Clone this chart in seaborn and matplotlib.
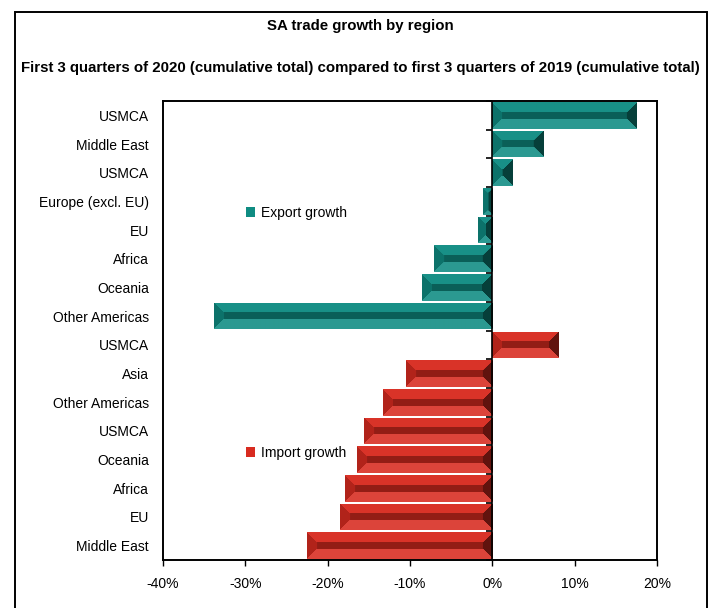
import numpy as np
import pandas as pd
import matplotlib
matplotlib.use('Agg')
import matplotlib.pyplot as plt
import matplotlib.patches as mpatches
from matplotlib.ticker import FuncFormatter
import seaborn as sns

# data (growth in %)
regions = ['USMCA', 'Middle East', 'USMCA', 'Europe (excl. EU)', 'EU', 'Africa',
           'Oceania', 'Other Americas',
           'USMCA', 'Asia', 'Other Americas', 'USMCA', 'Oceania', 'Africa',
           'EU', 'Middle East']
flows = ['Export growth'] * 8 + ['Import growth'] * 8
growth = [17.5, 6.2, 2.5, -1.1, -1.8, -7.1, -8.5, -33.8,
          8.1, -10.5, -13.3, -15.6, -16.4, -17.9, -18.5, -22.5]
x_ticks = [-40, -30, -20, -10, 0, 10, 20]

colors = {'Export growth': '#0f8c82', 'Import growth': '#d82b20'}

sns.set_style('white')
plt.rcParams['font.family'] = ['Liberation Sans Narrow', 'Liberation Sans', 'DejaVu Sans']
plt.rcParams['text.color'] = 'black'
plt.rcParams['xtick.color'] = 'black'
plt.rcParams['ytick.color'] = 'black'

df = pd.DataFrame({'key': [f'r{i}' for i in range(len(regions))],
                   'region': regions, 'flow': flows, 'growth': growth})

fig = plt.figure(figsize=(7.2, 6.08), dpi=100)
ax = fig.add_axes([163 / 720, 1 - 560 / 608, (657 - 163) / 720, (560 - 101) / 608])

sns.barplot(data=df, y='key', x='growth', hue='flow', palette=colors,
            dodge=False, width=0.93, orient='h', legend=False, ax=ax,
            edgecolor='none', saturation=1)

ax.set_xlim(-40, 20)
ax.set_ylim(len(regions) - 0.5, -0.5)
ax.set_xticks(x_ticks)
ax.xaxis.set_major_formatter(FuncFormatter(lambda v, p: f'{int(v)}%'))
ax.set_yticks(range(len(regions)))
ax.set_yticklabels(regions)
ax.set_xlabel('')
ax.set_ylabel('')
ax.tick_params(axis='y', length=0, pad=10, labelsize=10, labelcolor='black')
ax.tick_params(axis='x', length=4, width=1, direction='out', bottom=True,
               labelsize=10, pad=8, labelcolor='black')
for s in ax.spines.values():
    s.set_visible(True)
    s.set_color('black')
    s.set_linewidth(1.4)

# zero line with ticks between categories
ax.axvline(0, color='black', lw=1.2, zorder=5)
bounds = np.arange(len(regions) + 1) - 0.5
ax.plot(np.zeros_like(bounds), bounds, linestyle='none', marker=0,
        markersize=4, color='black', mew=1.2, zorder=5, clip_on=False)


def bevel_image(rgb, hpx, wpx):
    # bevelled look: each pixel shaded by its nearest edge
    rows = np.arange(hpx)[:, None] * np.ones((1, wpx))
    cols = np.ones((hpx, 1)) * np.arange(wpx)[None, :]
    d = np.stack([rows, hpx - 1 - rows, cols, wpx - 1 - cols])
    face = d.argmin(axis=0)
    dmin = d.min(axis=0)
    b = max(2, hpx * 0.34)
    shade = np.array([1.04, 1.12, 0.82, 0.45])[face]
    shade = np.where(dmin > b, 0.68, shade)
    base = np.array(rgb)
    img = np.empty((hpx, wpx, 3))
    for c in range(3):
        v = base[c] * shade
        v = np.where(shade > 1, base[c] + (1 - base[c]) * (shade - 1), v)
        img[:, :, c] = np.clip(v, 0, 1)
    return img


fig.canvas.draw()
for patch in list(ax.patches):
    x0, y0 = patch.get_x(), patch.get_y()
    w, h = patch.get_width(), patch.get_height()
    if w == 0:
        continue
    xl, xr = min(x0, x0 + w), max(x0, x0 + w)
    p1 = ax.transData.transform((xl, y0))
    p2 = ax.transData.transform((xr, y0 + h))
    wpx = max(3, int(round(abs(p2[0] - p1[0]))))
    hpx = max(3, int(round(abs(p2[1] - p1[1]))))
    rgb = matplotlib.colors.to_rgb(patch.get_facecolor())
    img = bevel_image(rgb, hpx, wpx)
    im = ax.imshow(img, extent=(xl, xr, y0 + h, y0), origin='upper',
                   aspect='auto', interpolation='bilinear', zorder=3)
    im.set_clip_path(patch)
ax.set_xlim(-40, 20)
ax.set_ylim(len(regions) - 0.5, -0.5)

# legends placed beside each group
for name, ypos in [('Export growth', 213), ('Import growth', 453)]:
    h = mpatches.Patch(facecolor=colors[name], edgecolor='none')
    fig.legend(handles=[h], labels=[name], loc='center left',
               bbox_to_anchor=(240 / 720, 1 - ypos / 608), frameon=False,
               handlelength=0.7, handleheight=0.7, handletextpad=0.4,
               fontsize=10, borderaxespad=0)

fig.text(0.5, 1 - 26 / 608, 'SA trade growth by region', ha='center', va='center',
         fontsize=10.8, fontweight='bold')
fig.text(0.5, 1 - 68 / 608,
         'First 3 quarters of 2020 (cumulative total) compared to first 3 quarters of 2019 (cumulative total)',
         ha='center', va='center', fontsize=10.8, fontweight='bold')

border = mpatches.Rectangle((15 / 720, -0.02), (707 - 15) / 720, 1.02 - 12 / 608,
                            transform=fig.transFigure, fill=False, lw=1.4,
                            edgecolor='black')
fig.add_artist(border)

fig.savefig('out.png', dpi=100)
